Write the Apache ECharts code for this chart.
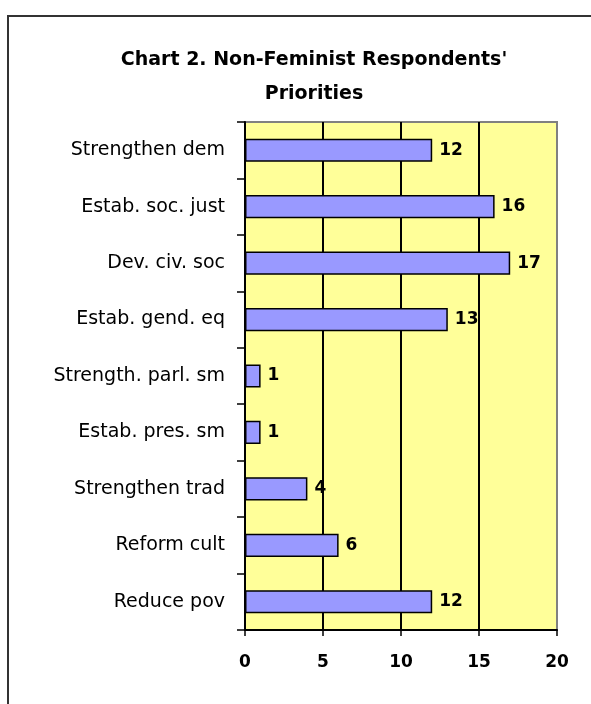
<!DOCTYPE html>
<html>
<head>
<meta charset="utf-8">
<script src="https://cdn.jsdelivr.net/npm/echarts@6/dist/echarts.min.js"></script>
<style>
html,body{margin:0;padding:0;background:#fff;}
#chart{width:591px;height:704px;}
</style>
</head>
<body>
<div id="chart"></div>
<script>
const categories = ["Strengthen dem","Estab. soc. just","Dev. civ. soc","Estab. gend. eq","Strength. parl. sm","Estab. pres. sm","Strengthen trad","Reform cult","Reduce pov"];
const values = [12,16,17,13,1,1,4,6,12];
const xTicks = {min:0, max:20, interval:5};
const titleText = "Chart 2. Non-Feminist Respondents'\nPriorities";

const chart = echarts.init(document.getElementById('chart'), null, {renderer:'canvas'});
chart.setOption({
  animation:false,
  backgroundColor:'#ffffff',
  title:{
    text:titleText,
    left:309, top:38, textAlign:'center',
    textStyle:{fontFamily:'DejaVu Sans', fontWeight:'bold', fontSize:19, lineHeight:34, color:'#000'}
  },
  graphic:[{
    type:'rect', shape:{x:8, y:16, width:700, height:800},
    style:{fill:'none', stroke:'#333', lineWidth:2}, silent:true, z:-1
  }],
  grid:{
    left:245, right:34, top:122, bottom:74, containLabel:false,
    show:true, backgroundColor:'#FFFF99', borderColor:'#808080', borderWidth:2
  },
  xAxis:{
    type:'value', min:xTicks.min, max:xTicks.max, interval:xTicks.interval,
    axisLine:{show:true, lineStyle:{color:'#000', width:2}},
    axisTick:{show:true, length:6, lineStyle:{color:'#000', width:1.5}},
    axisLabel:{fontFamily:'DejaVu Sans', fontWeight:'bold', fontSize:17, color:'#000', margin:24},
    splitLine:{show:true, showMinLine:false, showMaxLine:false, lineStyle:{color:'#000', width:2}}
  },
  yAxis:{
    type:'category', data:categories, inverse:true,
    axisLine:{show:true, lineStyle:{color:'#000', width:2}},
    axisTick:{show:true, length:8, lineStyle:{color:'#000', width:1.5}},
    axisLabel:{fontFamily:'DejaVu Sans', fontSize:19, color:'#000', margin:20},
    splitLine:{show:false}
  },
  series:[{
    type:'bar', data:values, barWidth:'41%',
    itemStyle:{color:'#9999FF', borderColor:'#000', borderWidth:1.5},
    label:{show:true, position:'right', distance:7, fontFamily:'DejaVu Sans', fontWeight:'bold', fontSize:17, color:'#000'}
  }]
});
</script>
</body>
</html>
